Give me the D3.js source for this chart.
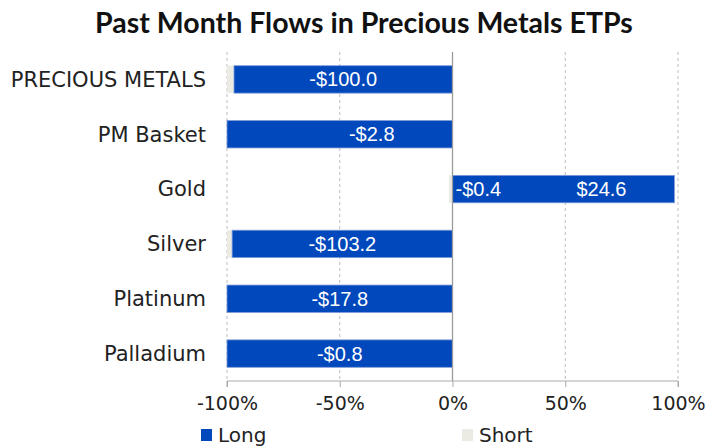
<!DOCTYPE html>
<html>
<head>
<meta charset="utf-8">
<script src="https://cdn.jsdelivr.net/npm/d3@7/dist/d3.min.js"></script>
<style>
  html, body { margin: 0; padding: 0; background: #fff; }
  svg { display: block; }
</style>
</head>
<body>
<svg id="chart" width="724" height="446"></svg>
<script>
// Past-month flows ($M) split into long and short products
const categories = ["PRECIOUS METALS", "PM Basket", "Gold", "Silver", "Platinum", "Palladium"];
const longFlows  = [-100.0, -2.8, 24.6, -103.2, -17.8, -0.8];
const shortFlows = [-3.2, 0, -0.4, -2.4, 0, 0];
const tickValues = [-100, -50, 0, 50, 100];
const seriesNames = ["Long", "Short"];

const BLUE = "#0048BC";
const SHORT = "#ECEBE3";
const labelFont = "'DejaVu Sans', sans-serif";

const svg = d3.select("#chart");
const margin = { top: 52, left: 227, right: 46, bottom: 65 };
const W = 724, H = 446;

const x = d3.scaleLinear().domain([-100, 100]).range([margin.left, W - margin.right]);
const y = d3.scaleBand().domain(categories).range([margin.top, H - margin.bottom]).paddingInner(0.5).paddingOuter(0.25);

// Convert each flow into its share of the gross flow, stacked away from zero
const rows = categories.map((c, i) => {
  const l = longFlows[i], s = shortFlows[i];
  const gross = Math.abs(l) + Math.abs(s);
  const lp = gross ? l / gross * 100 : 0;
  const sp = gross ? s / gross * 100 : 0;
  const sameSide = Math.sign(l) === Math.sign(s);
  const sStart = sameSide ? lp : 0;
  return { c, l, s, lp, sp, longSeg: [0, lp], shortSeg: [sStart, sStart + sp], sameSide };
});

// Title
svg.append("text")
  .attr("x", 364).attr("y", 33)
  .attr("text-anchor", "middle")
  .attr("font-family", "Lato, sans-serif")
  .attr("font-weight", 700)
  .attr("font-size", 28.5)
  .attr("fill", "#111")
  .text("Past Month Flows in Precious Metals ETPs");

// Vertical dashed gridlines
svg.append("g").selectAll("line")
  .data(tickValues.filter(t => t !== 0))
  .join("line")
  .attr("x1", d => x(d)).attr("x2", d => x(d))
  .attr("y1", margin.top).attr("y2", H - margin.bottom)
  .attr("stroke", "#bdbdbd").attr("stroke-width", 1)
  .attr("stroke-dasharray", "3,3");

// Bars
const bars = svg.append("g");
rows.forEach(r => {
  const yy = y(r.c), bh = y.bandwidth();
  if (r.s !== 0) {
    bars.append("rect")
      .attr("x", x(Math.min(...r.shortSeg))).attr("y", yy)
      .attr("width", Math.abs(x(r.shortSeg[1]) - x(r.shortSeg[0]))).attr("height", bh)
      .attr("fill", SHORT);
  }
  bars.append("rect")
    .attr("x", x(Math.min(...r.longSeg))).attr("y", yy)
    .attr("width", Math.abs(x(r.longSeg[1]) - x(r.longSeg[0]))).attr("height", bh)
    .attr("fill", BLUE)
    .attr("stroke", "#7f9bd6").attr("stroke-width", 0.8);
});

// Zero line
svg.append("line")
  .attr("x1", x(0)).attr("x2", x(0))
  .attr("y1", margin.top).attr("y2", H - margin.bottom)
  .attr("stroke", "#9a9a9a").attr("stroke-width", 1.3);

// Value labels
const fmt = v => (v < 0 ? "-$" : "$") + Math.abs(v).toFixed(1);
const labelNudge = { "PM Basket": 32, "Gold": 38 };
const labels = svg.append("g")
  .attr("font-family", "'Liberation Sans', Arial, sans-serif")
  .attr("font-size", 20).attr("fill", "#fff");
rows.forEach(r => {
  const cy = y(r.c) + y.bandwidth() / 2;
  labels.append("text")
    .attr("x", x(r.lp / 2) + (labelNudge[r.c] || 0)).attr("y", cy)
    .attr("dy", "0.35em").attr("text-anchor", "middle")
    .text(fmt(r.l));
  if (!r.sameSide && r.s !== 0) {
    labels.append("text")
      .attr("x", x(0) + 3).attr("y", cy)
      .attr("dy", "0.35em").attr("text-anchor", "start")
      .text(fmt(r.s));
  }
});

// Category labels
svg.append("g").selectAll("text")
  .data(categories)
  .join("text")
  .attr("x", 206)
  .attr("y", d => y(d) + y.bandwidth() / 2)
  .attr("dy", "0.35em")
  .attr("text-anchor", "end")
  .attr("font-family", labelFont)
  .attr("font-size", 21)
  .attr("fill", "#222")
  .text(d => d);

// X axis
const axis = d3.axisBottom(x).tickValues(tickValues).tickSize(6).tickFormat(d => d + "%");
const gx = svg.append("g").attr("transform", `translate(0,${H - margin.bottom})`).call(axis);
gx.select(".domain").attr("stroke", "#aaa").attr("d", `M${x(-100)},6V0H${x(100)}V6`);
gx.selectAll(".tick line").attr("stroke", "#aaa");
gx.selectAll(".tick text")
  .attr("font-family", labelFont).attr("font-size", 19).attr("fill", "#222")
  .attr("y", 22).attr("dy", "0.35em");

// Legend
const legend = svg.append("g");
const legendX = [201, 462];
seriesNames.forEach((n, i) => {
  legend.append("rect")
    .attr("x", legendX[i]).attr("y", 429).attr("width", 11).attr("height", 12)
    .attr("fill", i === 0 ? BLUE : SHORT);
  legend.append("text")
    .attr("x", legendX[i] + 17).attr("y", 435).attr("dy", "0.36em")
    .attr("font-family", labelFont).attr("font-size", 20).attr("fill", "#222")
    .text(n);
});
</script>
</body>
</html>
